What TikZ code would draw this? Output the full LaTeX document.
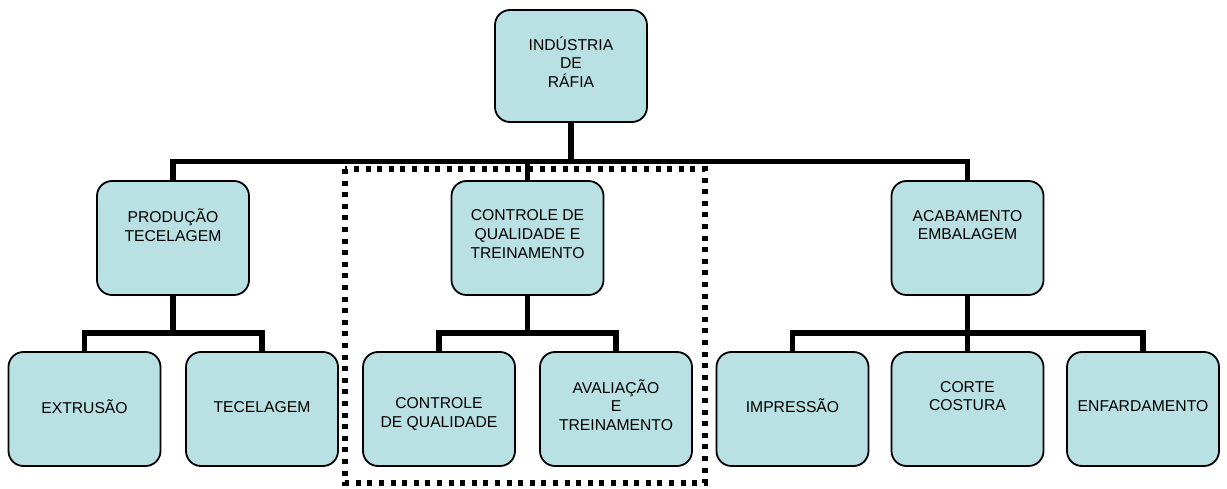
\documentclass[tikz,border=0pt]{standalone}
\usepackage{fontspec}
\setmainfont{Liberation Sans}
\definecolor{boxfill}{RGB}{185,224,227}
\begin{document}
\begin{tikzpicture}[x=1pt,y=-1pt,
  box/.style={draw=black,line width=1.8pt,rounded corners=15pt,fill=boxfill,
    minimum width=152pt,minimum height=114pt,inner sep=0pt},
  lbl/.style={align=center,font=\fontsize{15.7}{18.6}\selectfont,inner sep=0pt},
  conn/.style={line width=5.6pt,line join=miter},
  dotbox/.style={line width=5.4pt,dash pattern=on 5pt off 6.6pt}]
\useasboundingbox (0,0) rectangle (1227,489);
% boxes
\node[box,minimum height=112pt] (top) at (571,66) {};
\node[box] (prod) at (173,238) {};
\node[box] (cqt) at (527.5,238) {};
\node[box] (acab) at (967.5,238) {};
\node[box] (ext) at (84.5,409) {};
\node[box] (tec) at (262,409) {};
\node[box] (cq) at (439,409) {};
\node[box] (av) at (616,409) {};
\node[box] (imp) at (792.5,409) {};
\node[box] (cor) at (967.5,409) {};
\node[box] (enf) at (1143,409) {};
% labels
\node[lbl] (ttop) at (571,62) {INDÚSTRIA\\DE\\RÁFIA};
\node[lbl] (tprod) at (173,225) {PRODUÇÃO\\TECELAGEM};
\node[lbl] (tcqt) at (527.5,234) {CONTROLE DE\\QUALIDADE E\\TREINAMENTO};
\node[lbl] (tacab) at (967.5,225) {ACABAMENTO\\EMBALAGEM};
\node[lbl] (text) at (84.5,407) {EXTRUSÃO};
\node[lbl] (ttec) at (262,407) {TECELAGEM};
\node[lbl] (tcq) at (439,414) {CONTROLE\\DE QUALIDADE};
\node[lbl] (tav) at (616,405) {AVALIAÇÃO\\E\\TREINAMENTO};
\node[lbl] (timp) at (792.5,406) {IMPRESSÃO};
\node[lbl] (tcor) at (967.5,396) {CORTE\\COSTURA};
\node[lbl] (tenf) at (1143,406) {ENFARDAMENTO};
% connectors
\coordinate (bus) at (572,161.7);
\coordinate (busl) at (173,333);
\coordinate (busm) at (527.5,333);
\coordinate (busr) at (967.5,333);
% dotted group frame (drawn below connectors)
\coordinate (dA) at (345,169);
\coordinate (dB) at (705,483);
\draw[dotbox] (dA) rectangle (dB);
\draw[conn] (top.south) -- (top.south |- bus);
\draw[conn] (prod.north) -- (prod.north |- bus) -- (acab.north |- bus) -- (acab.north);
\draw[conn] (cqt.north) -- (cqt.north |- bus);
\draw[conn] (prod.south) -- (busl);
\draw[conn] (ext.north) -- (ext.north |- busl) -- (tec.north |- busl) -- (tec.north);
\draw[conn] (cqt.south) -- (busm);
\draw[conn] (cq.north) -- (cq.north |- busm) -- (av.north |- busm) -- (av.north);
\draw[conn] (acab.south) -- (busr);
\draw[conn] (imp.north) -- (imp.north |- busr) -- (enf.north |- busr) -- (enf.north);
\draw[conn] (cor.north) -- (busr);
\end{tikzpicture}
\end{document}
